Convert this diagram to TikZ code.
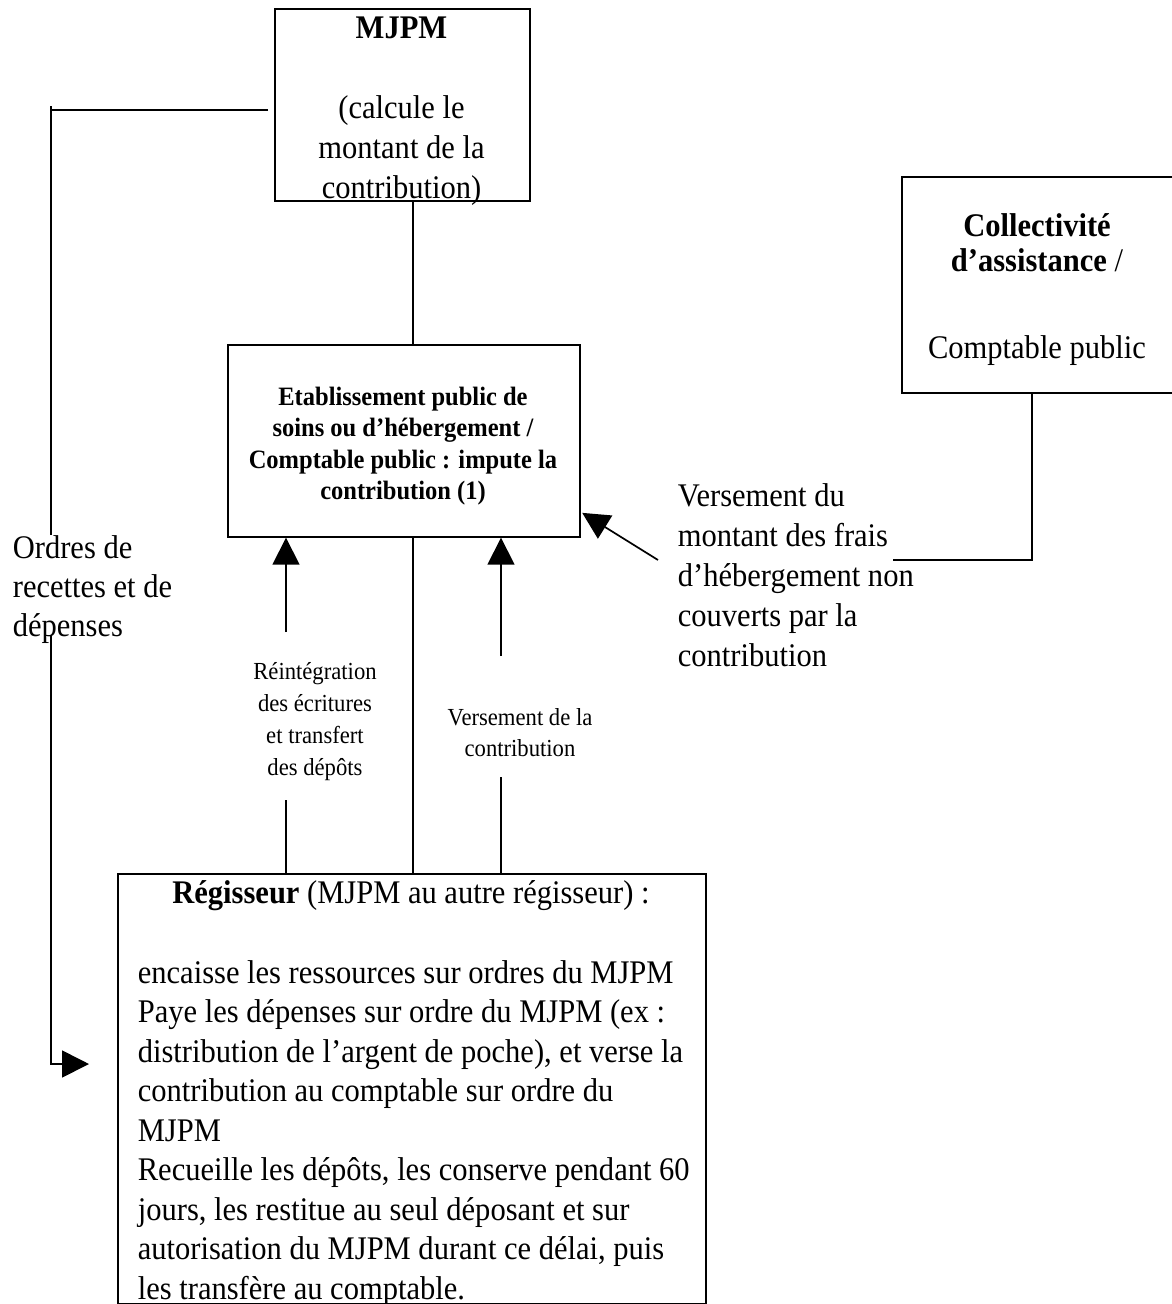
\documentclass[tikz,border=0pt]{standalone}
\usepackage{fontspec}
\setmainfont{Liberation Serif}[FakeStretch=0.925]
\usetikzlibrary{arrows.meta}
\begin{document}
\begin{tikzpicture}[x=1pt,y=-1pt, line width=1.7pt,
  box/.style={draw, rectangle, inner sep=0pt, anchor=north west},
  big/.style={font=\fontsize{33}{40}\selectfont, inner sep=0pt},
  mid/.style={font=\fontsize{26.5}{31.5}\selectfont\bfseries, inner sep=0pt},
  small/.style={font=\fontsize{24.5}{31.7}\selectfont, inner sep=0pt},
  arr/.style={-{Triangle[length=27pt,width=27pt]}}]
\useasboundingbox (0,0) rectangle (1171,1304);

% boxes (text nodes are anchored at the baseline of their last line)
\node[box, minimum width=255pt, minimum height=192pt] (mjpm) at (274,8) {};
\node[big, align=center, anchor=base] (mjpmtxt) at (401.5,198)
  {\textbf{MJPM}\\[40pt](calcule le\\montant de la\\contribution)};

\node[box, minimum width=352pt, minimum height=192pt] (etab) at (227,344) {};
\node[mid, align=center, anchor=base] (etabtxt) at (403,499.5)
  {Etablissement public de\\soins ou d’hébergement /\\Comptable public : impute la\\contribution (1)};

\node[box, minimum width=271pt, minimum height=216pt] (coll) at (901,176) {};
\node[big, font=\fontsize{33}{35}\selectfont, align=center, anchor=base] (colltxt) at (1037,358)
  {\textbf{Collectivité}\\\textbf{d’assistance} /\\[52pt]Comptable public};

\node[box, minimum width=588pt, minimum height=430pt] (reg) at (117,873) {};
\node[big, anchor=base] (regtitle) at (411,903)
  {\textbf{Régisseur} (MJPM au autre régisseur) :};
\node[big, font=\fontsize{33}{39.5}\selectfont, align=left, anchor=base west] (regbody) at (137,1299)
  {encaisse les ressources sur ordres du MJPM\\
   Paye les dépenses sur ordre du MJPM (ex :\\
   distribution de l’argent de poche), et verse la\\
   contribution au comptable sur ordre du\\
   MJPM\\
   Recueille les dépôts, les conserve pendant 60\\
   jours, les restitue au seul déposant et sur\\
   autorisation du MJPM durant ce délai, puis\\
   les transfère au comptable.};

% free labels
\node[big, font=\fontsize{33}{39}\selectfont, align=left, anchor=base west] (ordres) at (12,636)
  {Ordres de\\recettes et de\\dépenses};
\node[big, align=left, anchor=base west] (versdu) at (677,666)
  {Versement du\\montant des frais\\d’hébergement non\\couverts par la\\contribution};
\node[small, align=center, anchor=base] (reint) at (315,775)
  {Réintégration\\des écritures\\et transfert\\des dépôts};
\node[small, align=center, anchor=base] (verscontrib) at (520,756.7)
  {Versement de la\\contribution};

% connectors
\draw ([xshift=10.5pt]mjpm.south) -- ([xshift=10.5pt]mjpm.south |- etab.north);
\draw ([xshift=9pt]etab.south) -- ([xshift=9pt]etab.south |- reg.north);

\coordinate (rl1) at (286,800);
\coordinate (rl2) at (286,632);
\draw (rl1 |- reg.north) -- (rl1);
\draw[arr] (rl2) -- (rl2 |- etab.south);

\coordinate (rr1) at (501,777);
\coordinate (rr2) at (501,656);
\draw (rr1 |- reg.north) -- (rr1);
\draw[arr] (rr2) -- (rr2 |- etab.south);

\coordinate (vstart) at (658,560);
\draw[arr] (vstart) -- ([xshift=1.5pt,yshift=-72pt]etab.east);

\coordinate (cend) at (893,560);
\draw ([xshift=-5.5pt]coll.south) |- (cend);

\coordinate (oa) at (268,110);
\coordinate (ob) at (51,535);
\coordinate (oc) at (51,635);
\coordinate (od) at (89,1064);
\draw (oa) -- (oa -| ob);
\draw ([yshift=4pt]oa -| ob) -- (ob);
\draw[arr] (oc) |- (od);
\end{tikzpicture}
\end{document}
